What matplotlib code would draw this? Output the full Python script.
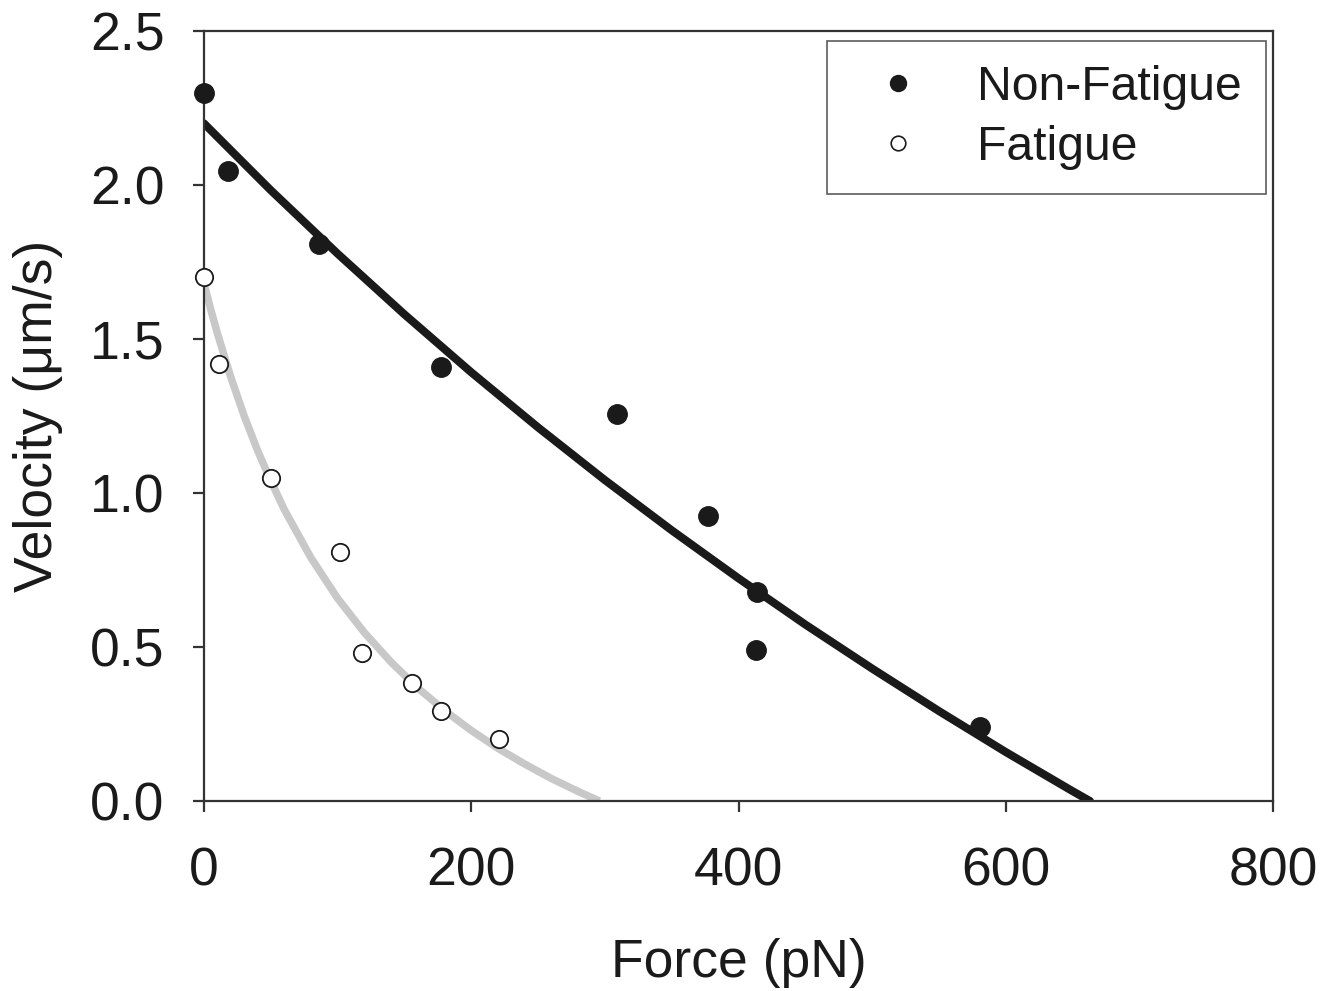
import matplotlib
matplotlib.use("Agg")
import matplotlib.pyplot as plt
from matplotlib.lines import Line2D

# Measured data
nonfatigue_force = [0, 18, 86, 177, 309, 377, 414, 413, 581]
nonfatigue_velocity = [2.30, 2.045, 1.81, 1.41, 1.256, 0.925, 0.68, 0.49, 0.24]

fatigue_force = [0, 11, 50, 102, 118, 156, 177, 221]
fatigue_velocity = [1.70, 1.42, 1.05, 0.81, 0.48, 0.383, 0.292, 0.20]

# Fitted curves
nonfatigue_fit_force = [0, 50, 100, 150, 200, 250, 300, 350, 400, 450, 500, 550, 600, 650, 663]
nonfatigue_fit_velocity = [2.20, 1.983, 1.777, 1.580, 1.392, 1.213, 1.042, 0.879, 0.723,
                           0.573, 0.430, 0.292, 0.159, 0.032, 0.0]

fatigue_fit_force = [0, 5, 10, 20, 30, 40, 50, 60, 80, 100, 120, 140, 160, 180, 200,
                     220, 240, 260, 280, 296]
fatigue_fit_velocity = [1.68, 1.597, 1.519, 1.377, 1.251, 1.139, 1.04, 0.947, 0.790, 0.658,
                        0.547, 0.451, 0.367, 0.294, 0.229, 0.171, 0.120, 0.073, 0.031, 0.0]

x_ticks = [0, 200, 400, 600, 800]
y_ticks = [0.0, 0.5, 1.0, 1.5, 2.0, 2.5]
y_tick_labels = ["0.0", "0.5", "1.0", "1.5", "2.0", "2.5"]

plt.rcParams['font.family'] = ['Liberation Sans', 'DejaVu Sans']

FS = 38.5
LEG_FS = 34.7

fig = plt.figure(figsize=(13.35, 9.91), dpi=100)
ax = fig.add_axes([0.1528, 0.1917, 0.8008, 0.777])

text_color = "#1a1a1a"
ax.plot(fatigue_fit_force, fatigue_fit_velocity, color="#c8c8c8", lw=5.4,
        solid_capstyle="butt", zorder=2)
ax.plot(nonfatigue_fit_force, nonfatigue_fit_velocity, color="#1a1a1a", lw=5.8,
        solid_capstyle="round", zorder=2)

ax.plot(nonfatigue_force, nonfatigue_velocity, linestyle="none", marker="o",
        markersize=14, markerfacecolor="#1a1a1a", markeredgecolor="#1a1a1a", zorder=3,
        clip_on=False)
ax.plot(fatigue_force, fatigue_velocity, linestyle="none", marker="o",
        markersize=12.5, markerfacecolor="white", markeredgecolor="#1a1a1a",
        markeredgewidth=1.3, zorder=3, clip_on=False)

ax.set_xlim(0, 800)
ax.set_ylim(0, 2.5)
ax.set_xticks(x_ticks)
ax.set_yticks(y_ticks)
ax.set_yticklabels(y_tick_labels)

for s in ax.spines.values():
    s.set_linewidth(1.6)
    s.set_color("#333333")

ax.tick_params(direction="out", length=8, width=1.6, color="#333333",
               labelsize=FS, labelcolor=text_color)
ax.tick_params(axis="y", pad=20.5)
ax.tick_params(axis="x", pad=24.5)

ax.set_xlabel("Force (pN)", fontsize=FS, color=text_color, labelpad=30)
ax.set_ylabel("Velocity (\u03bcm/s)", fontsize=FS, color=text_color, labelpad=19)

handles = [
    Line2D([], [], linestyle="none", marker="o", markersize=11.5,
           markerfacecolor="#1a1a1a", markeredgecolor="#1a1a1a"),
    Line2D([], [], linestyle="none", marker="o", markersize=10.5,
           markerfacecolor="white", markeredgecolor="#1a1a1a", markeredgewidth=1.2),
]
leg = ax.legend(handles, ["Non-Fatigue", "Fatigue"], loc="upper right",
                bbox_to_anchor=(0.9935, 0.987), fontsize=LEG_FS, frameon=True,
                fancybox=False, edgecolor="#333333", borderpad=0.5,
                handletextpad=0.67, handlelength=1.95, labelspacing=0.3,
                borderaxespad=0)
leg.get_frame().set_linewidth(1.2)
for t in leg.get_texts():
    t.set_color(text_color)

fig.savefig("out.png", dpi=100)
